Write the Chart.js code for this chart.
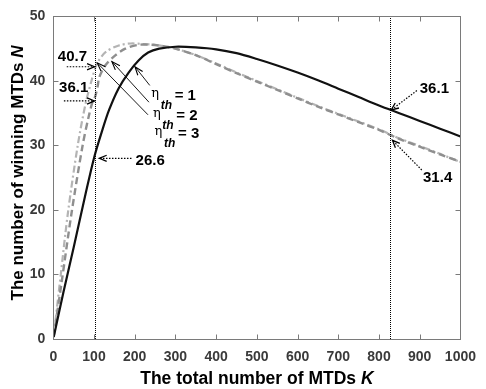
<!DOCTYPE html>
<html><head><meta charset="utf-8">
<script src="https://cdn.jsdelivr.net/npm/chart.js@4.4.1/dist/chart.umd.min.js"></script>
<style>html,body{margin:0;padding:0;background:#fff}#wrap{width:486px;height:389px}</style>
</head><body><div id="wrap"><canvas id="c" width="486" height="389"></canvas></div>
<script>
// ---- data ----
const seriesNames = ['\u03b7th = 1', '\u03b7th = 2', '\u03b7th = 3'];
const k1 = [1, 25, 50, 80, 101, 120, 137, 160, 185, 210, 233, 260, 300, 350, 400, 450, 500, 550, 600, 650, 700, 750, 800, 850, 900, 950, 1000];
const n1 = [0.3, 7.3, 14.2, 22.7, 28.3, 32.3, 35.5, 38.8, 41.3, 43.2, 44.4, 45.0, 45.3, 45.2, 44.9, 44.3, 43.4, 42.4, 41.3, 40.1, 38.8, 37.5, 36.2, 35.0, 33.8, 32.6, 31.4];
const k2 = [1, 20, 45, 72, 87, 97, 103, 109, 113, 129, 153, 177, 209, 240, 270, 300, 350, 400, 450, 500, 550, 600, 650, 700, 750, 800, 850, 900, 950, 1000];
const n2 = [0.4, 8.6, 19.6, 30.0, 34.5, 36.9, 37.6, 39.2, 40.6, 42.5, 44.0, 45.0, 45.6, 45.6, 45.4, 45.0, 44.0, 42.6, 41.2, 39.9, 38.6, 37.3, 36.0, 34.8, 33.6, 32.4, 31.0, 29.8, 28.6, 27.5];
const k3 = [1, 18, 36, 60, 79, 95, 103, 109, 129, 161, 190, 225, 260, 300, 350, 400, 450, 500, 550, 600, 650, 700, 750, 800, 850, 900, 950, 1000];
const n3 = [0.4, 9.8, 19.6, 30.0, 36.4, 40.3, 42.0, 42.9, 44.5, 45.5, 45.8, 45.7, 45.5, 45.0, 44.0, 42.7, 41.3, 40.0, 38.7, 37.4, 36.1, 34.9, 33.7, 32.5, 31.1, 29.9, 28.7, 27.4];
const xTicks = [0, 100, 200, 300, 400, 500, 600, 700, 800, 900, 1000];
const yTicks = [0, 10, 20, 30, 40, 50];
const markerK = [103, 828];
// annotations: label, text position (K, N), arrow tail (K, N), arrow tip (K, N)
const noteLabels = ['40.7', '36.1', '26.6', '36.1', '31.4'];
const noteText = [[47, 43.7], [50, 38.9], [238, 27.6], [936, 38.7], [944, 24.9]];
const noteTail = [[33, 42.2], [26, 36.9], [192, 28.0], [893, 38.5], [905, 26.2]];
const noteTip = [[101, 42.2], [101, 36.9], [113, 28.0], [830, 35.5], [833, 30.8]];
// eta labels: left of the eta glyph / baseline (K, N), arrow tail and tip
const etaValues = ['1', '2', '3'];
const etaPos = [[240.6, 37.0], [244.7, 33.9], [248.8, 31.1]];
const etaTail = [[237, 39.3], [235, 36.7], [232.6, 34.75]];
const etaTip = [[200.6, 42.2], [144, 43.0], [108, 42.8]];

const FONT = '"Liberation Sans", Arial, sans-serif';

function pts(ks, ns) { return ks.map((k, i) => ({x: k, y: ns[i]})); }

function arrowHead(ctx, x1, y1, x2, y2, len, ang) {
  const a = Math.atan2(y2 - y1, x2 - x1);
  ctx.beginPath();
  ctx.moveTo(x2 - len * Math.cos(a - ang), y2 - len * Math.sin(a - ang));
  ctx.lineTo(x2, y2);
  ctx.lineTo(x2 - len * Math.cos(a + ang), y2 - len * Math.sin(a + ang));
  ctx.stroke();
}

const deco = {
  id: 'deco',
  afterDatasetsDraw(chart) {
    const ctx = chart.ctx, xs = chart.scales.x, ys = chart.scales.y, a = chart.chartArea;
    const X = v => xs.getPixelForValue(v), Y = v => ys.getPixelForValue(v);
    ctx.save();
    // vertical dotted markers
    ctx.strokeStyle = '#000'; ctx.lineWidth = 1; ctx.setLineDash([1, 1]);
    markerK.forEach(k => { const x = Math.round(X(k)) + 0.5; ctx.beginPath(); ctx.moveTo(x, Math.round(a.top)); ctx.lineTo(x, Math.round(a.bottom)); ctx.stroke(); });
    // numeric annotations with dotted arrows
    noteLabels.forEach((t, i) => {
      const tx = X(noteTail[i][0]), ty = Y(noteTail[i][1]), px = X(noteTip[i][0]), py = Y(noteTip[i][1]);
      ctx.setLineDash([1.5, 1.5]); ctx.lineWidth = 1.2; ctx.strokeStyle = '#000';
      ctx.beginPath(); ctx.moveTo(tx, ty); ctx.lineTo(px, py); ctx.stroke();
      ctx.setLineDash([]); ctx.lineWidth = 1.3;
      arrowHead(ctx, tx, ty, px, py, 8, 0.4);
      ctx.fillStyle = '#000'; ctx.font = 'bold 15px ' + FONT; ctx.textAlign = 'center'; ctx.textBaseline = 'middle';
      ctx.fillText(t, X(noteText[i][0]), Y(noteText[i][1]));
    });
    // eta labels with solid arrows
    etaValues.forEach((v, i) => {
      const tx = X(etaTail[i][0]), ty = Y(etaTail[i][1]), px = X(etaTip[i][0]), py = Y(etaTip[i][1]);
      ctx.setLineDash([]); ctx.lineWidth = 0.9; ctx.strokeStyle = '#000';
      ctx.beginPath(); ctx.moveTo(tx, ty); ctx.lineTo(px, py); ctx.stroke();
      ctx.lineWidth = 1.1; arrowHead(ctx, tx, ty, px, py, 9, 0.35);
      const x = X(etaPos[i][0]), y = Y(etaPos[i][1]);
      ctx.textAlign = 'left'; ctx.textBaseline = 'alphabetic'; ctx.fillStyle = '#000';
      ctx.font = '13px "DejaVu Serif", serif'; ctx.fillText('\u03b7', x, y - 3);
      ctx.font = 'italic bold 12px ' + FONT; ctx.fillText('th', x + 9.4, y + 8.4);
      ctx.font = 'bold 15px ' + FONT; ctx.fillText('= ' + v, x + 23.4, y);
    });
    // box and inward ticks
    ctx.strokeStyle = '#7a7a7a'; ctx.lineWidth = 1; ctx.setLineDash([]);
    const L = Math.round(a.left) + 0.5, R = Math.round(a.right) + 0.5, T = Math.round(a.top) + 0.5, B = Math.round(a.bottom) + 0.5;
    ctx.strokeRect(L, T, R - L, B - T);
    ctx.beginPath();
    xTicks.forEach(k => { const x = Math.round(X(k)) + 0.5; ctx.moveTo(x, B); ctx.lineTo(x, B - 5); ctx.moveTo(x, T); ctx.lineTo(x, T + 5); });
    yTicks.forEach(n => { const y = Math.round(Y(n)) + 0.5; ctx.moveTo(L, y); ctx.lineTo(L + 5, y); ctx.moveTo(R, y); ctx.lineTo(R - 5, y); });
    ctx.stroke();
    // axis titles
    ctx.fillStyle = '#000'; ctx.textBaseline = 'middle'; ctx.textAlign = 'left';
    const drawTitle = (plain, ital, size) => {
      ctx.font = 'bold ' + size + 'px ' + FONT; const w1 = ctx.measureText(plain).width;
      ctx.font = 'italic bold ' + size + 'px ' + FONT; const w2 = ctx.measureText(ital).width;
      const x = -(w1 + w2) / 2;
      ctx.font = 'bold ' + size + 'px ' + FONT; ctx.fillText(plain, x, 0);
      ctx.font = 'italic bold ' + size + 'px ' + FONT; ctx.fillText(ital, x + w1, 0);
    };
    ctx.save(); ctx.translate((a.left + a.right) / 2, 379); drawTitle('The total number of MTDs ', 'K', 17.5); ctx.restore();
    ctx.save(); ctx.translate(18, 173); ctx.rotate(-Math.PI / 2); drawTitle('The number of winning MTDs ', 'N', 17); ctx.restore();
    ctx.restore();
  }
};

new Chart(document.getElementById('c'), {
  type: 'line',
  data: {
    datasets: [
      {label: seriesNames[0], data: pts(k1, n1), borderColor: '#111', borderWidth: 2.2, pointRadius: 0, tension: 0.3},
      {label: seriesNames[1], data: pts(k2, n2), borderColor: '#8f8f8f', borderWidth: 2.4, borderDash: [7, 4], pointRadius: 0, tension: 0.3},
      {label: seriesNames[2], data: pts(k3, n3), borderColor: '#b4b4b4', borderWidth: 2.2, borderDash: [7, 3, 2, 3], pointRadius: 0, tension: 0.3}
    ]
  },
  options: {
    responsive: false, animation: false, devicePixelRatio: 1,
    layout: {padding: {top: 11, right: 17, left: 0, bottom: 0}},
    plugins: {legend: {display: false}, tooltip: {enabled: false}},
    scales: {
      x: {type: 'linear', min: 0, max: 1000, grid: {display: false, drawTicks: false}, border: {display: false},
          ticks: {stepSize: 100, padding: 10, color: '#3a3a3a', font: {family: FONT, size: 14, weight: 'bold'}, maxRotation: 0,
                  callback: v => String(v)},
          afterFit: s => { s.height = 50; }},
      y: {min: 0, max: 50, grid: {display: false, drawTicks: false}, border: {display: false},
          ticks: {stepSize: 10, padding: 8, color: '#3a3a3a', font: {family: FONT, size: 14, weight: 'bold'}},
          afterFit: s => { s.width = 53.3; }}
    }
  },
  plugins: [deco]
});
</script></body></html>
